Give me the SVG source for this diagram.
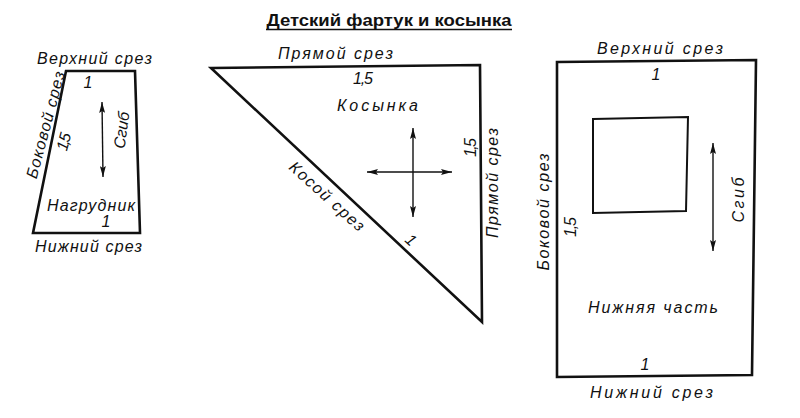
<svg xmlns="http://www.w3.org/2000/svg" width="800" height="418" viewBox="0 0 800 418">
<style>
.bg{fill:#fff}
.outline{fill:none;stroke:#111;stroke-width:2.6;stroke-linejoin:miter}
.inner{fill:none;stroke:#111;stroke-width:2}
.arr{fill:none;stroke:#111;stroke-width:1.4;marker-start:url(#ah);marker-end:url(#ah)}
.t{font-family:"Liberation Sans","DejaVu Sans",sans-serif;font-style:italic;font-size:16px;fill:#111;text-anchor:middle}
.title{font-family:"Liberation Sans","Open Sans",sans-serif;font-weight:bold;font-size:17px;fill:#111;text-anchor:middle}
</style>
<defs>
<marker id="ah" markerUnits="userSpaceOnUse" markerWidth="12" markerHeight="6" refX="11" refY="3" orient="auto-start-reverse">
<path d="M0,0 L11,3 L0,6 L2,3 z" fill="#111"/>
</marker>
</defs>
<rect class="bg" x="0" y="0" width="800" height="418"/>
<g id="title">
<text class="title" x="389" y="26" textLength="245" lengthAdjust="spacingAndGlyphs">Детский фартук и косынка</text>
<line x1="266" y1="29.5" x2="512" y2="29.5" stroke="#111" stroke-width="1.6"/>
</g>
<g id="nagrudnik">
<polygon class="outline" points="66,71 135,71 140,233 33,233"/>
<text class="t" x="94.5" y="64" textLength="115" lengthAdjust="spacing">Верхний срез</text>
<text class="t" x="88" y="88">1</text>
<text class="t" x="91" y="211" textLength="88" lengthAdjust="spacing">Нагрудник</text>
<text class="t" x="106" y="227">1</text>
<text class="t" x="88.5" y="252" textLength="107" lengthAdjust="spacing">Нижний срез</text>
<text class="t" transform="translate(50.8,126.3) rotate(-75)" textLength="110" lengthAdjust="spacing">Боковой срез</text>
<text class="t" transform="translate(69,143) rotate(-75)" textLength="18" lengthAdjust="spacing">1,5</text>
<text class="t" transform="translate(127,131) rotate(-82)" textLength="37" lengthAdjust="spacing">Сгиб</text>
</g>
<g id="kosynka">
<polygon class="outline" points="211,68 480,65 482,322"/>
<text class="t" x="335.5" y="59" textLength="115" lengthAdjust="spacing">Прямой срез</text>
<text class="t" x="363" y="84" textLength="20" lengthAdjust="spacing">1,5</text>
<text class="t" x="377.5" y="111" textLength="81" lengthAdjust="spacing">Косынка</text>
<text class="t" transform="translate(323.4,200.4) rotate(42)" textLength="95" lengthAdjust="spacing">Косой срез</text>
<text class="t" transform="translate(407.3,244) rotate(42)">1</text>
<text class="t" transform="translate(476,147.5) rotate(-90)" textLength="19" lengthAdjust="spacing">1,5</text>
<text class="t" transform="translate(497.5,183) rotate(-90)" textLength="110" lengthAdjust="spacing">Прямой срез</text>
</g>
<g id="nizhnyaya-chast">
<polygon class="outline" points="557,62 756,60 752,375 557,377"/>
<polygon class="inner" points="593,119 688,117 686,211 593,213"/>
<text class="t" x="660" y="54" textLength="126" lengthAdjust="spacing">Верхний срез</text>
<text class="t" x="656" y="80">1</text>
<text class="t" transform="translate(549,212) rotate(-90)" textLength="117" lengthAdjust="spacing">Боковой срез</text>
<text class="t" transform="translate(576,227) rotate(-90)" textLength="20" lengthAdjust="spacing">1,5</text>
<text class="t" transform="translate(744,200) rotate(-90)" textLength="45" lengthAdjust="spacing">Сгиб</text>
<text class="t" x="653" y="313" textLength="130" lengthAdjust="spacing">Нижняя часть</text>
<text class="t" x="645" y="370">1</text>
<text class="t" x="651.5" y="398" textLength="123" lengthAdjust="spacing">Нижний срез</text>
</g>
<g id="connectors">
<line class="arr" x1="102" y1="102" x2="103" y2="177"/>
<line class="arr" x1="413" y1="128" x2="413" y2="217"/>
<line class="arr" x1="367" y1="172" x2="452" y2="172"/>
<line class="arr" x1="713" y1="143" x2="713" y2="251"/>
</g>
</svg>
